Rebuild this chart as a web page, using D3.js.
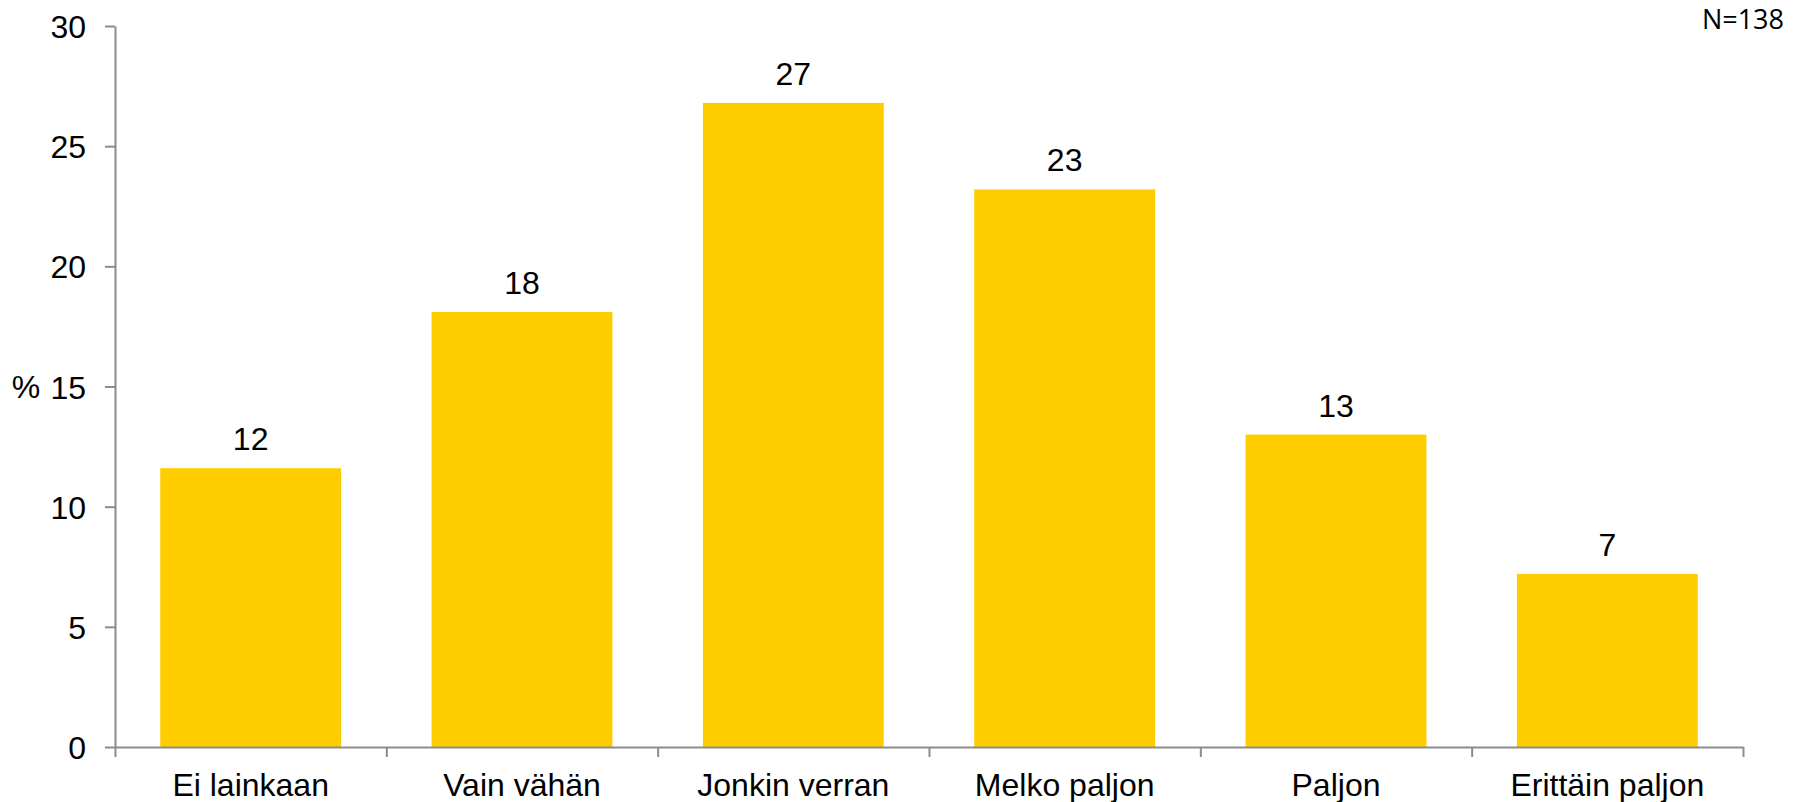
<!DOCTYPE html>
<html>
<head>
<meta charset="utf-8">
<script src="https://cdn.jsdelivr.net/npm/d3@7"></script>
<style>
  body { margin: 0; background: #fff; }
  svg text { font-family: "Liberation Sans", Arial, sans-serif; fill: #000; }
</style>
</head>
<body>
<div id="chart"></div>
<script>
// Data
const categories = ["Ei lainkaan", "Vain vähän", "Jonkin verran", "Melko paljon", "Paljon", "Erittäin paljon"];
const values = [11.6, 18.1, 26.8, 23.2, 13.0, 7.2];
const yTicks = [0, 5, 10, 15, 20, 25, 30];
const nLabel = "N=138";

// Dimensions
const W = 1804, H = 802;
const margin = { top: 26, right: 61, bottom: 55, left: 115 };
const width = W - margin.left - margin.right;
const height = H - margin.top - margin.bottom;
const axisColor = "#8c8c8c";
const fontSize = "32px";

const svg = d3.select("#chart")
    .append("svg")
    .attr("width", W)
    .attr("height", H);

const g = svg.append("g")
    .attr("transform", `translate(${margin.left},${margin.top})`);

// Scales
const x = d3.scaleBand()
    .domain(categories)
    .range([0, width])
    .paddingInner(1 / 3)
    .paddingOuter(1 / 6);

const xEdges = d3.scaleLinear()
    .domain([0, categories.length])
    .range([0, width]);

const y = d3.scaleLinear()
    .domain([0, 30])
    .range([height, 0]);

// Bars
g.selectAll(".bar")
    .data(values)
    .enter()
    .append("rect")
    .attr("class", "bar")
    .attr("x", (d, i) => x(categories[i]))
    .attr("y", d => y(d))
    .attr("width", x.bandwidth())
    .attr("height", d => height - y(d))
    .attr("fill", "#ffcc00");

// Value labels
g.selectAll(".bar-label")
    .data(values)
    .enter()
    .append("text")
    .attr("class", "bar-label")
    .attr("x", (d, i) => x(categories[i]) + x.bandwidth() / 2)
    .attr("y", d => y(d) - 18)
    .attr("text-anchor", "middle")
    .style("font-size", fontSize)
    .text(d => Math.round(d));

// Y axis
const yAxis = g.append("g")
    .call(d3.axisLeft(y)
        .tickValues(yTicks)
        .tickSize(10)
        .tickSizeOuter(0)
        .tickPadding(19));
yAxis.selectAll("text").style("font-size", fontSize).attr("dy", "0.36em");

// X axis: ticks at band edges
g.append("g")
    .attr("transform", `translate(0,${height})`)
    .call(d3.axisBottom(xEdges)
        .tickValues(d3.range(categories.length + 1))
        .tickSize(10)
        .tickSizeOuter(0)
        .tickFormat(""));

// Category labels
g.selectAll(".cat-label")
    .data(categories)
    .enter()
    .append("text")
    .attr("class", "cat-label")
    .attr("x", d => x(d) + x.bandwidth() / 2)
    .attr("y", height + 49)
    .attr("text-anchor", "middle")
    .style("font-size", fontSize)
    .text(d => d);

// Axis styling
svg.selectAll(".domain, .tick line")
    .attr("stroke", axisColor)
    .attr("stroke-width", 2);

// % label
g.append("text")
    .attr("x", -89)
    .attr("y", y(15))
    .attr("dy", "0.36em")
    .attr("text-anchor", "middle")
    .style("font-size", fontSize)
    .text("%");

// N label
svg.append("text")
    .attr("x", 1784)
    .attr("y", 29)
    .attr("text-anchor", "end")
    .style("font-family", "'Open Sans', 'Noto Sans', sans-serif")
    .style("font-size", "27px")
    .text(nLabel);
</script>
</body>
</html>
